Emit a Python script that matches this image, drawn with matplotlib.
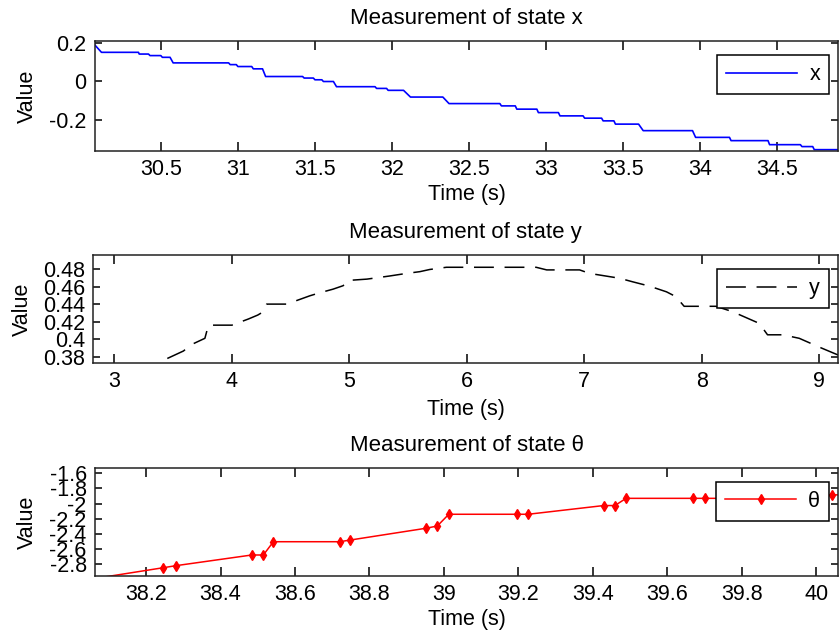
import matplotlib.pyplot as plt
import numpy as np
from matplotlib.ticker import FuncFormatter

# ============================================================
# Data
# ============================================================

# state x: piecewise constant levels between t_start and t_end
x_first_t = 30.07
x_first_v = 0.19
x_seg_start = [30.115, 30.36, 30.43, 30.51, 30.58, 30.95, 31.00, 31.10, 31.18,
               31.43, 31.50, 31.555, 31.64, 31.90, 31.975, 32.12, 32.37, 32.71,
               32.81, 32.95, 33.09, 33.25, 33.37, 33.45, 33.63, 33.97, 34.20,
               34.45, 34.66, 34.74]
x_seg_end = [30.355, 30.42, 30.50, 30.56, 30.94, 30.99, 31.09, 31.16, 31.42,
             31.49, 31.545, 31.62, 31.89, 31.965, 32.075, 32.33, 32.70, 32.80,
             32.94, 33.08, 33.24, 33.36, 33.44, 33.60, 33.95, 34.19, 34.44,
             34.65, 34.73, 34.95]
x_levels = [0.150, 0.141, 0.133, 0.124, 0.095, 0.086, 0.076, 0.064, 0.024,
            0.016, 0.007, -0.002, -0.029, -0.038, -0.048, -0.083, -0.117,
            -0.129, -0.146, -0.164, -0.181, -0.193, -0.207, -0.224, -0.258,
            -0.293, -0.310, -0.331, -0.341, -0.357]

# state y
y_time = [3.45, 3.587, 3.658, 3.77, 3.80, 4.0, 4.14, 4.22, 4.27, 4.296, 4.466,
          4.55, 4.664, 4.75, 4.86, 4.947, 4.99, 5.15, 5.34, 5.486, 5.60, 5.685,
          5.826, 6.59, 6.68, 6.96, 7.045, 7.30, 7.41, 7.555, 7.70, 7.78, 7.85,
          8.12, 8.26, 8.49, 8.56, 8.69, 8.83, 9.0, 9.16]
y_value = [0.378, 0.3865, 0.394, 0.401, 0.416, 0.416, 0.423, 0.4275, 0.4315,
           0.44, 0.44, 0.444, 0.4495, 0.453, 0.457, 0.461, 0.467, 0.4685,
           0.472, 0.475, 0.477, 0.4795, 0.482, 0.482, 0.479, 0.479, 0.475,
           0.4695, 0.4655, 0.4605, 0.454, 0.4485, 0.4375, 0.4375, 0.4315,
           0.418, 0.405, 0.405, 0.401, 0.391, 0.382]

# state theta
th_time = [38.02, 38.246, 38.28, 38.484, 38.515, 38.542, 38.72, 38.748,
           38.951, 38.982, 39.013, 39.195, 39.226, 39.429, 39.459, 39.489,
           39.67, 39.70, 39.90, 39.93, 40.043, 40.07]
th_value = [-3.02, -2.845, -2.818, -2.677, -2.677, -2.502, -2.502, -2.48,
            -2.325, -2.295, -2.14, -2.14, -2.14, -2.025, -2.025, -1.93,
            -1.93, -1.93, -1.93, -1.90, -1.884, -1.884]

# axis ranges and ticks
x_xlim = (30.073, 34.894)
x_ylim = (-0.364, 0.209)
x_xticks = [30.5, 31, 31.5, 32, 32.5, 33, 33.5, 34, 34.5]
x_yticks = [-0.2, 0, 0.2]

y_xlim = (2.82, 9.16)
y_ylim = (0.3725, 0.496)
y_xticks = [3, 4, 5, 6, 7, 8, 9]
y_yticks = [0.38, 0.40, 0.42, 0.44, 0.46, 0.48]

th_xlim = (38.063, 40.058)
th_ylim = (-2.954, -1.526)
th_xticks = [38.2, 38.4, 38.6, 38.8, 39, 39.2, 39.4, 39.6, 39.8, 40]
th_yticks = [-2.8, -2.6, -2.4, -2.2, -2.0, -1.8, -1.6]

# ============================================================
# Style
# ============================================================

plt.rcParams["font.family"] = ["Liberation Sans", "DejaVu Sans"]
plt.rcParams["font.size"] = 15.5
plt.rcParams["axes.unicode_minus"] = False

W, H = 839, 643
fig = plt.figure(figsize=(W / 100, H / 100), dpi=100)


def px_axes(left, top, right, bottom):
    return fig.add_axes([left / W, 1 - bottom / H, (right - left) / W, (bottom - top) / H])


ax1 = px_axes(95, 41, 838, 151)
ax2 = px_axes(93.3, 255, 838, 363.3)
ax3 = px_axes(95, 467.7, 838, 576)

# ============================================================
# Curves
# ============================================================

x_t = [x_first_t] + list(np.ravel(np.column_stack([x_seg_start, x_seg_end])))
x_v = [x_first_v] + list(np.repeat(x_levels, 2))
ax1.plot(x_t, x_v, color="#0000ff", lw=1.2, label="x")

ax2.plot(y_time, y_value, color="black", lw=1.1, dashes=(13, 7), label="y")

ax3.plot(th_time, th_value, color="#ff0000", lw=1.1, marker="d",
         markersize=5, label="θ")

# ============================================================
# Axes decoration
# ============================================================

fmt = FuncFormatter(lambda v, pos: f"{v:g}")

setup = [
    (ax1, x_xlim, x_ylim, x_xticks, x_yticks, "x", -0.077, -0.30),
    (ax2, y_xlim, y_ylim, y_xticks, y_yticks, "y", -0.0816, -0.332),
    (ax3, th_xlim, th_ylim, th_xticks, th_yticks, "θ", -0.077, -0.305),
]

for ax, xlim, ylim, xticks, yticks, name, ylab_x, xlab_y in setup:
    ax.set_xlim(*xlim)
    ax.set_ylim(*ylim)
    ax.set_xticks(xticks)
    ax.set_yticks(yticks)
    ax.xaxis.set_major_formatter(fmt)
    ax.yaxis.set_major_formatter(fmt)
    ax.tick_params(direction="in", top=True, right=True, width=1.1,
                   color="black")
    ax.tick_params(axis="x", length=6.5, pad=5.8)
    ax.tick_params(axis="y", length=5, pad=6)
    for s in ax.spines.values():
        s.set_linewidth(1.1)
        s.set_color("#222222")
    ax.set_title(f"Measurement of state {name}", pad=12.2, fontsize=16)
    ax.set_xlabel("Time (s)")
    ax.set_ylabel("Value")
    ax.xaxis.set_label_coords(0.5, xlab_y)
    ax.yaxis.set_label_coords(ylab_x, 0.5)
    leg = ax.legend(
        loc="upper right",
        bbox_to_anchor=(0.988, 0.87),
        borderaxespad=0,
        fancybox=False,
        framealpha=1,
        edgecolor="black",
        handlelength=3.3,
        handletextpad=0.55,
        borderpad=0.42,
    )
    leg.get_frame().set_linewidth(1.1)

fig.savefig("out.png", dpi=100)
